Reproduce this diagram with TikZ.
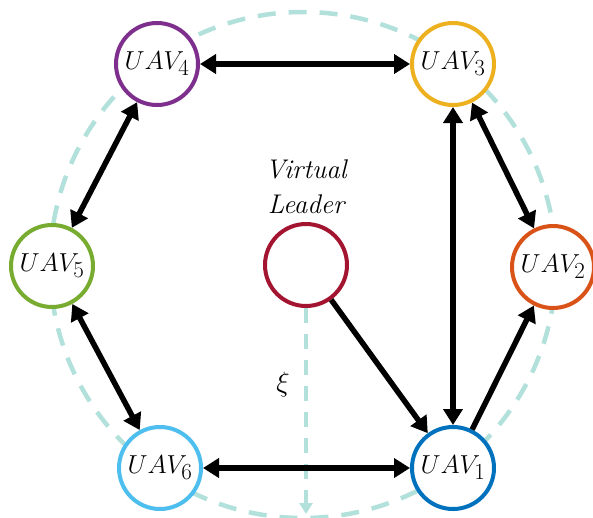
\RequirePackage{fix-cm}
\documentclass[tikz,border=0pt]{standalone}
\usepackage{amsmath}
\usetikzlibrary{positioning, arrows.meta}
\DeclareMathSizes{26}{26}{23}{18}
\definecolor{uavBlue}{RGB}{0,114,189}
\definecolor{uavOrange}{RGB}{217,83,25}
\definecolor{uavYellow}{RGB}{237,177,32}
\definecolor{uavPurple}{RGB}{126,47,142}
\definecolor{uavGreen}{RGB}{119,172,48}
\definecolor{uavCyan}{RGB}{77,190,238}
\definecolor{uavRed}{RGB}{162,20,47}
\definecolor{guideTeal}{RGB}{178,224,219}
\tikzstyle{uavNode} = [shape=circle, draw=black, line width=4pt, fill=white,
	minimum size=82pt, inner sep=0pt, font=\fontsize{26}{30}\selectfont]
\tikzstyle{linkArrow} = [line width=5.5pt, draw=black, -{Triangle[length=16pt,width=19pt]}]
\tikzstyle{biArrow} = [linkArrow, {Triangle[length=16pt,width=19pt]}-{Triangle[length=16pt,width=19pt]}]
\tikzstyle{guideLine} = [line width=4.5pt, draw=guideTeal, dash pattern=on 18pt off 13pt]

\begin{document}
\begin{tikzpicture}[x=1pt, y=-1pt]
  \useasboundingbox (0,0) rectangle (593,517);
  \draw[guideLine] (303,265) circle (253);

  \node (leader) at (306,265) [uavNode, draw=uavRed] {};
  \node (labelVL) at (306,187) [align=center, font=\fontsize{27}{35}\selectfont\itshape] {Virtual\\Leader};
  \coordinate (xiEnd) at (306,514);
  \draw[guideLine, line width=4pt, dash pattern=on 15pt off 11pt,
	-{Triangle[length=11pt,width=13pt]}] (leader) -- (xiEnd);
  \node (labelXi) at (283,384) [font=\fontsize{28}{28}\selectfont] {$\xi$};

  \node (UAV1) at (453,468) [uavNode, draw=uavBlue] {$UAV_{1}$};
  \node (UAV2) at (553,267) [uavNode, draw=uavOrange] {$UAV_{2}$};
  \node (UAV3) at (453,64) [uavNode, draw=uavYellow] {$UAV_{3}$};
  \node (UAV4) at (157,64) [uavNode, draw=uavPurple] {$UAV_{4}$};
  \node (UAV5) at (52,266) [uavNode, draw=uavGreen] {$UAV_{5}$};
  \node (UAV6) at (160,468) [uavNode, draw=uavCyan] {$UAV_{6}$};

  \draw [biArrow] (UAV4) -- (UAV3);
  \draw [biArrow] (UAV4) -- (UAV5);
  \draw [biArrow] (UAV5) -- (UAV6);
  \draw [biArrow] (UAV6) -- (UAV1);
  \draw [biArrow] (UAV3) -- (UAV1);
  \draw [biArrow] (UAV3) -- (UAV2);
  \draw [linkArrow] (UAV1) -- (UAV2);
  \draw [linkArrow] (leader) -- (UAV1);
\end{tikzpicture}
\end{document}
